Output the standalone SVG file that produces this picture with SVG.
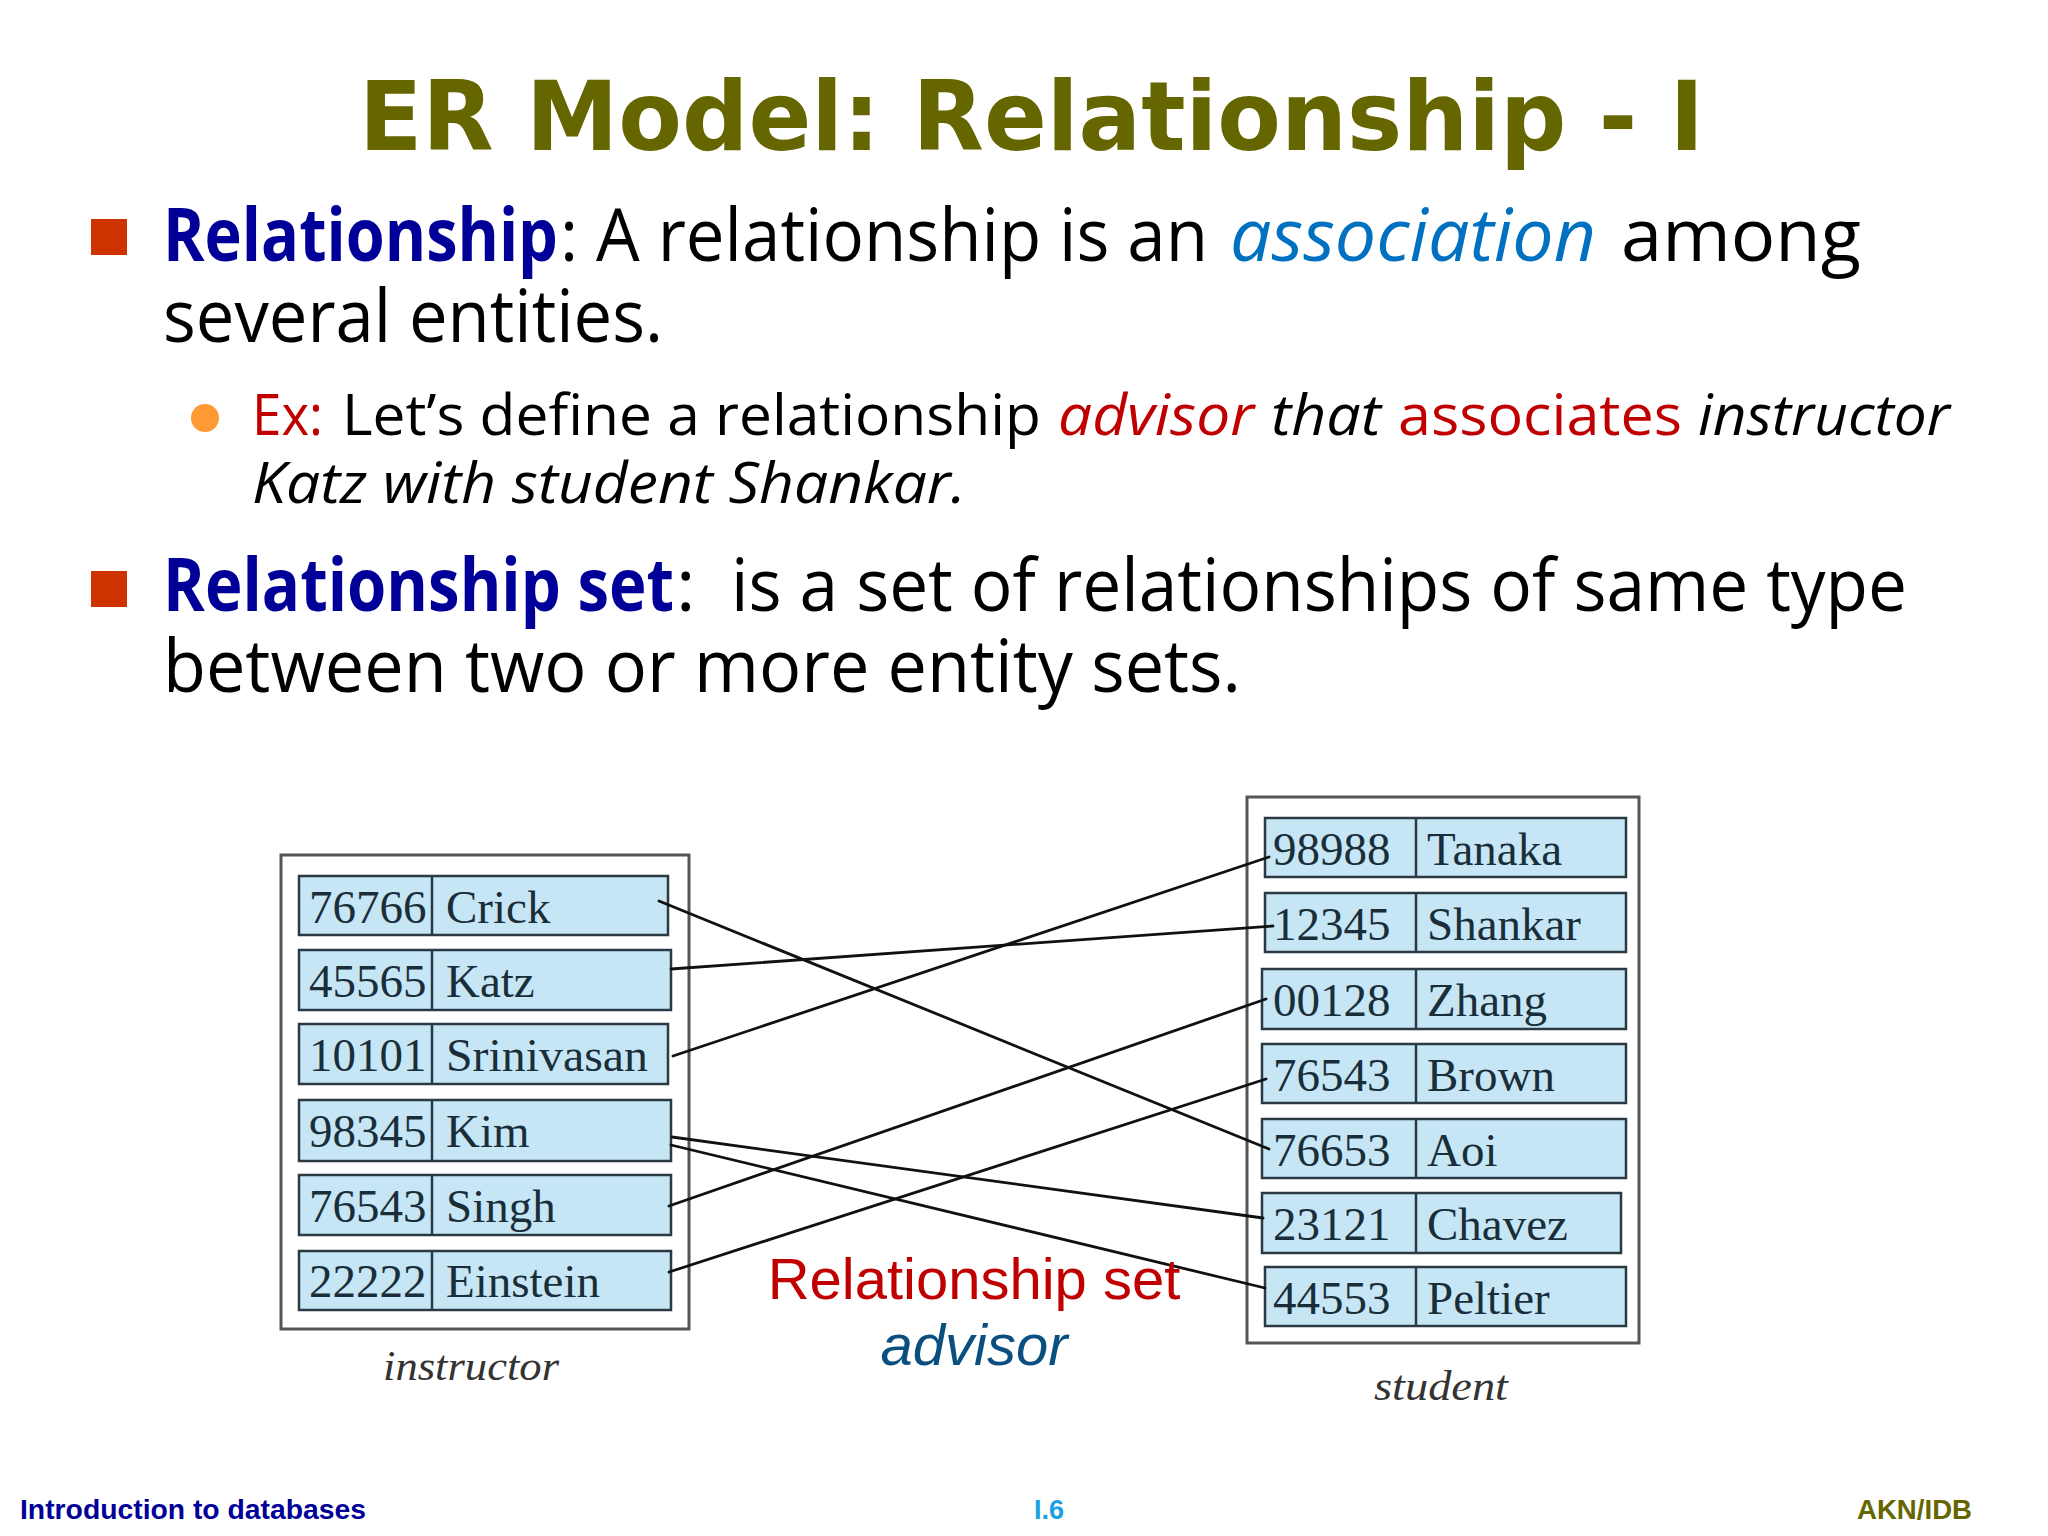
<svg xmlns="http://www.w3.org/2000/svg" width="2048" height="1536" viewBox="0 0 2048 1536">
<style>
.title{font-family:"DejaVu Sans","Liberation Sans",sans-serif;font-weight:bold;font-size:96px;fill:#666600}
.body{font-family:"Open Sans","DejaVu Sans",sans-serif;font-size:74px;fill:#000}
.sub{font-family:"Open Sans","DejaVu Sans",sans-serif;font-size:57px;fill:#000}
.kw{font-weight:bold;fill:#000099}
.it{font-style:italic}
.red{fill:#c00000}
.blue{fill:#0070c0}
.row{fill:#c6e6f6;stroke:#2b3a42;stroke-width:2.5}
.div{stroke:#2b3a42;stroke-width:2.5}
.outer{fill:#fff;stroke:#555;stroke-width:3}
.cell{font-family:"Liberation Serif","DejaVu Serif",serif;font-size:47px;fill:#1a2e3a}
.lbl{font-family:"Liberation Serif","DejaVu Serif",serif;font-style:italic;font-size:42px;fill:#333}
.conn line{stroke:#111;stroke-width:2.8;stroke-linecap:round}
.foot{font-family:"Liberation Sans",sans-serif;font-weight:bold;font-size:27px}
</style>
<rect x="0" y="0" width="2048" height="1536" fill="#ffffff"/>

<g id="title">
<text class="title" x="359" y="150" textLength="1345" lengthAdjust="spacingAndGlyphs">ER Model: Relationship - I</text>
</g>

<g id="bullet1">
<rect x="91" y="219" width="36" height="36" fill="#cc3300"/>
<text class="body kw" x="163" y="261" textLength="395" lengthAdjust="spacingAndGlyphs">Relationship</text>
<text class="body" x="560" y="261" textLength="648" lengthAdjust="spacingAndGlyphs">: A relationship is an</text>
<text class="body it blue" x="1230" y="261" textLength="366" lengthAdjust="spacingAndGlyphs">association</text>
<text class="body" x="1621" y="261" textLength="240" lengthAdjust="spacingAndGlyphs">among</text>
<text class="body" x="163" y="342" textLength="500" lengthAdjust="spacingAndGlyphs">several entities.</text>
</g>

<g id="subbullet">
<circle cx="205" cy="418" r="14" fill="#ff9933"/>
<text class="sub red" x="252" y="435" textLength="71" lengthAdjust="spacingAndGlyphs">Ex:</text>
<text class="sub" x="342" y="435" textLength="699" lengthAdjust="spacingAndGlyphs">Let’s define a relationship</text>
<text class="sub it red" x="1058" y="435" textLength="196" lengthAdjust="spacingAndGlyphs">advisor</text>
<text class="sub it" x="1271" y="435" textLength="110" lengthAdjust="spacingAndGlyphs">that</text>
<text class="sub red" x="1398" y="435" textLength="284" lengthAdjust="spacingAndGlyphs">associates</text>
<text class="sub it" x="1698" y="435" textLength="252" lengthAdjust="spacingAndGlyphs">instructor</text>
<text class="sub it" x="252" y="503" textLength="714" lengthAdjust="spacingAndGlyphs">Katz with student Shankar.</text>
</g>

<g id="bullet2">
<rect x="91" y="571" width="36" height="36" fill="#cc3300"/>
<text class="body kw" x="163" y="611" textLength="511" lengthAdjust="spacingAndGlyphs">Relationship set</text>
<text class="body" x="676" y="611">:</text>
<text class="body" x="731" y="611" textLength="1176" lengthAdjust="spacingAndGlyphs">is a set of relationships of same type</text>
<text class="body" x="163" y="692" textLength="1078" lengthAdjust="spacingAndGlyphs">between two or more entity sets.</text>
</g>

<g id="instructor">
<rect class="outer" x="281" y="855" width="408" height="474"/>
<text class="lbl" x="383" y="1380" textLength="176" lengthAdjust="spacingAndGlyphs">instructor</text>
</g>
<g id="i-76766">
<rect class="row" x="299" y="876" width="369" height="59"/><line class="div" x1="432" y1="876" x2="432" y2="935"/>
<text class="cell" x="309" y="923">76766</text><text class="cell" x="446" y="923">Crick</text>
</g>
<g id="i-45565">
<rect class="row" x="299" y="950" width="372" height="60"/><line class="div" x1="432" y1="950" x2="432" y2="1010"/>
<text class="cell" x="309" y="997">45565</text><text class="cell" x="446" y="997">Katz</text>
</g>
<g id="i-10101">
<rect class="row" x="299" y="1024" width="369" height="60"/><line class="div" x1="432" y1="1024" x2="432" y2="1084"/>
<text class="cell" x="309" y="1071">10101</text><text class="cell" x="446" y="1071" textLength="202" lengthAdjust="spacingAndGlyphs">Srinivasan</text>
</g>
<g id="i-98345">
<rect class="row" x="299" y="1100" width="372" height="61"/><line class="div" x1="432" y1="1100" x2="432" y2="1161"/>
<text class="cell" x="309" y="1147">98345</text><text class="cell" x="446" y="1147">Kim</text>
</g>
<g id="i-76543">
<rect class="row" x="299" y="1175" width="372" height="60"/><line class="div" x1="432" y1="1175" x2="432" y2="1235"/>
<text class="cell" x="309" y="1222">76543</text><text class="cell" x="446" y="1222">Singh</text>
</g>
<g id="i-22222">
<rect class="row" x="299" y="1251" width="372" height="59"/><line class="div" x1="432" y1="1251" x2="432" y2="1310"/>
<text class="cell" x="309" y="1297">22222</text><text class="cell" x="446" y="1297">Einstein</text>
</g>

<g id="student">
<rect class="outer" x="1247" y="797" width="392" height="546"/>
<text class="lbl" x="1374" y="1400" textLength="134" lengthAdjust="spacingAndGlyphs">student</text>
</g>
<g id="s-98988">
<rect class="row" x="1265" y="818" width="361" height="59"/><line class="div" x1="1416" y1="818" x2="1416" y2="877"/>
<text class="cell" x="1273" y="865">98988</text><text class="cell" x="1427" y="865">Tanaka</text>
</g>
<g id="s-12345">
<rect class="row" x="1265" y="893" width="361" height="59"/><line class="div" x1="1416" y1="893" x2="1416" y2="952"/>
<text class="cell" x="1273" y="940">12345</text><text class="cell" x="1427" y="940">Shankar</text>
</g>
<g id="s-00128">
<rect class="row" x="1262" y="969" width="364" height="60"/><line class="div" x1="1416" y1="969" x2="1416" y2="1029"/>
<text class="cell" x="1273" y="1016">00128</text><text class="cell" x="1427" y="1016">Zhang</text>
</g>
<g id="s-76543">
<rect class="row" x="1262" y="1044" width="364" height="59"/><line class="div" x1="1416" y1="1044" x2="1416" y2="1103"/>
<text class="cell" x="1273" y="1091">76543</text><text class="cell" x="1427" y="1091">Brown</text>
</g>
<g id="s-76653">
<rect class="row" x="1262" y="1119" width="364" height="59"/><line class="div" x1="1416" y1="1119" x2="1416" y2="1178"/>
<text class="cell" x="1273" y="1166">76653</text><text class="cell" x="1427" y="1166">Aoi</text>
</g>
<g id="s-23121">
<rect class="row" x="1262" y="1193" width="359" height="60"/><line class="div" x1="1416" y1="1193" x2="1416" y2="1253"/>
<text class="cell" x="1273" y="1240">23121</text><text class="cell" x="1427" y="1240">Chavez</text>
</g>
<g id="s-44553">
<rect class="row" x="1265" y="1267" width="361" height="59"/><line class="div" x1="1416" y1="1267" x2="1416" y2="1326"/>
<text class="cell" x="1273" y="1314">44553</text><text class="cell" x="1427" y="1314">Peltier</text>
</g>

<g id="connectors" class="conn">
<line x1="659" y1="901" x2="1269" y2="1149"/>
<line x1="671" y1="969" x2="1273" y2="926"/>
<line x1="673" y1="1056" x2="1269" y2="857"/>
<line x1="672" y1="1137" x2="1263" y2="1218"/>
<line x1="671" y1="1145" x2="1265" y2="1288"/>
<line x1="669" y1="1206" x2="1266" y2="999"/>
<line x1="669" y1="1272" x2="1266" y2="1079"/>
</g>

<g id="relset-label">
<text x="974" y="1299" text-anchor="middle" font-family="Liberation Sans, Arial, sans-serif" font-size="58" fill="#c00000">Relationship set</text>
<text x="974" y="1365" text-anchor="middle" font-family="Liberation Sans, Arial, sans-serif" font-style="italic" font-size="58" fill="#0b4f80">advisor</text>
</g>

<g id="footer">
<text class="foot" x="20" y="1519" fill="#000099" textLength="346" lengthAdjust="spacingAndGlyphs">Introduction to databases</text>
<text class="foot" x="1049" y="1519" text-anchor="middle" fill="#1ba1e2">I.6</text>
<text class="foot" x="1857" y="1519" fill="#666600" textLength="115" lengthAdjust="spacingAndGlyphs">AKN/IDB</text>
</g>
</svg>
